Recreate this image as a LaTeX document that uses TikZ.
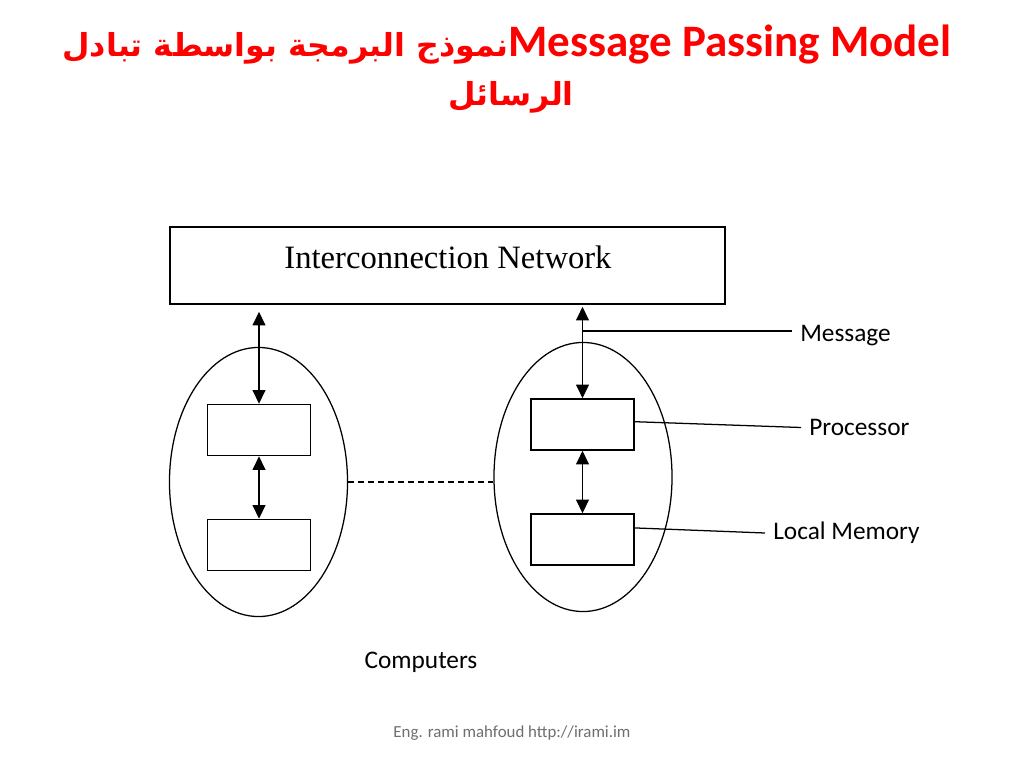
\documentclass[tikz,border=0pt]{standalone}
\usepackage{fontspec}
\setmainfont{Carlito}
\newfontfamily\arabicfont[Script=Arabic]{DejaVu Sans}
\newfontfamily\serifnet{Liberation Serif}
\TeXXeTstate=1
\usetikzlibrary{positioning,shapes.geometric,arrows.meta}
\definecolor{titlered}{RGB}{255,0,0}
\definecolor{footgray}{RGB}{110,110,110}
\tikzset{
  unit/.style={draw, line width=1.1pt, minimum width=2.575cm, minimum height=1.275cm, inner sep=0pt},
  computer/.style={draw, ellipse, line width=0.9pt, minimum width=4.45cm, minimum height=6.725cm, inner sep=0pt},
  tag/.style={anchor=west, inner sep=0.2cm, font=\fontsize{18}{22}\selectfont},
  link/.style={{Triangle[length=0.34cm,width=0.32cm]}-{Triangle[length=0.34cm,width=0.32cm]}, line width=0.9pt}
}
\begin{document}
\begin{tikzpicture}[x=0.025cm, y=-0.025cm]
  \useasboundingbox (0,0) rectangle (1024,768);
  \node[text=titlered, font=\bfseries\fontsize{32}{38}\selectfont] (title) at (507,45)
    {\beginR\beginL Message Passing Model\endL{\arabicfont\fontsize{22.5}{28}\selectfont نموذج البرمجة بواسطة تبادل}\endR};
  \node[text=titlered, font=\bfseries\arabicfont\fontsize{22.5}{28}\selectfont] (title2) at (511,97)
    {\beginR الرسائل\endR};
  \node[draw, line width=1.1pt, minimum width=13.875cm, minimum height=1.925cm] (net) at (447.5,265.5) {};
  \node[font=\serifnet\fontsize{23.2}{28}\selectfont] (nettext) at (448,257) {Interconnection Network};
  \node[computer] (compA) at (258.5,482) {};
  \node[computer] (compB) at (583,477) {};
  \node[unit] (procA) at (259,430) {};
  \node[unit, below of=procA, node distance=2.875cm] (memA) {};
  \node[unit] (procB) at (582.5,424.5) {};
  \node[unit, below of=procB, node distance=2.875cm] (memB) {};
  \node[tag] (msg) at (792,336) {Message};
  \node[tag] (proc) at (801,427.5) {Processor};
  \node[tag] (lmem) at (765,533) {Local Memory};
  \node[font=\fontsize{18}{22}\selectfont] (comps) at (421,662) {Computers};
  \node[text=footgray, font=\fontsize{12}{14}\selectfont] (foot) at (512,733) {Eng. rami mahfoud http://irami.im};
  \coordinate (tap) at (582.5,331);
  \draw[link, shorten >=0.175cm] (procA.north) -- (procA.north |- net.south);
  \draw[link, shorten >=0.05cm] (procB.north) -- (procB.north |- net.south);
  \draw[link] (procA.south) -- (memA.north);
  \draw[link] (procB.south) -- (memB.north);
  \draw[dashed, dash pattern=on 0.15cm off 0.1cm, line width=1pt] (compA.east) -- (compB.west |- compA.east);
  \draw[line width=0.9pt] (tap) -- (tap -| msg.west);
  \draw[line width=0.9pt] ([yshift=0.07cm]procB.east) -- (proc.west);
  \draw[line width=0.9pt] ([yshift=0.29cm]memB.east) -- (lmem.west);
\end{tikzpicture}
\end{document}
